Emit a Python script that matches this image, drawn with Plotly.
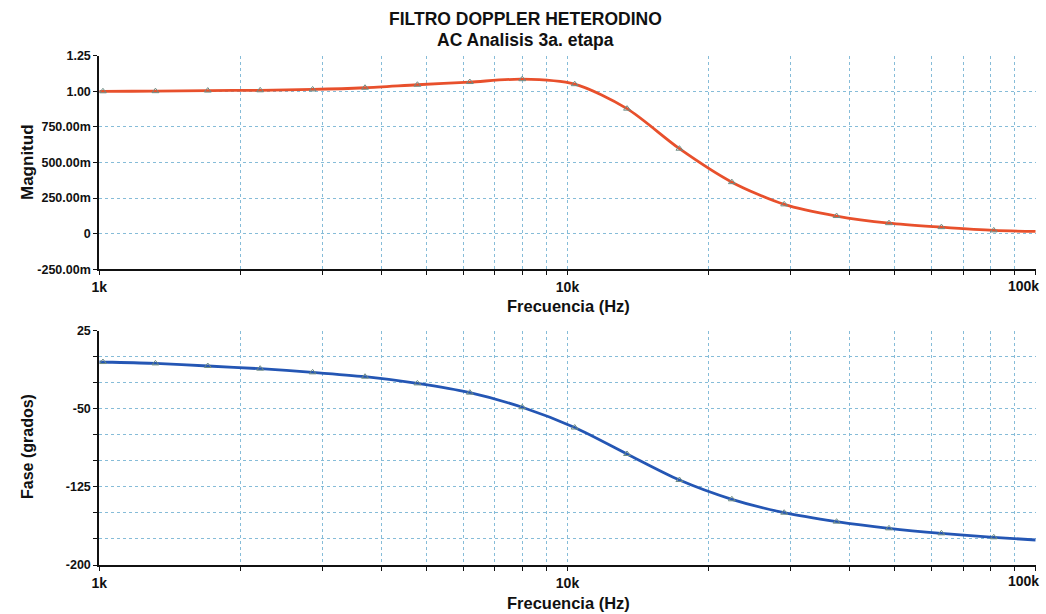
import plotly.graph_objects as go

# Frequency sweep (Hz) and simulated response of the 3rd stage
freq = [1000, 1018, 1318, 1705, 2206, 2855, 3694, 4780, 6185, 8004,
        10360, 13400, 17340, 22440, 29030, 37560, 48600, 62890, 81370, 100000]
magnitud = [1.000, 1.000, 1.001, 1.005, 1.007, 1.013, 1.025, 1.046, 1.065, 1.085,
            1.050, 0.878, 0.597, 0.362, 0.206, 0.124, 0.074, 0.046, 0.023, 0.016]
fase = [-5.0, -5.1, -6.4, -8.9, -11.5, -15.0, -19.2, -25.6, -34.5, -48.5,
        -68.0, -93.4, -118.4, -136.9, -149.8, -158.4, -164.8, -169.6, -173.4, -176.0]
# points carrying a sample marker
marker_idx = list(range(1, 19))

mag_ticks = [-0.25, 0, 0.25, 0.5, 0.75, 1.0, 1.25]
mag_labels = ["-250.00m", "0", "250.00m", "500.00m", "750.00m", "1.00", "1.25"]
fase_ticks = [25, 0, -25, -50, -75, -100, -125, -150, -175, -200]
fase_labels = ["25", "", "", "-50", "", "", "-125", "", "", "-200"]
freq_ticks = [m * 10 ** d for d in (3, 4) for m in range(1, 10)] + [100000]
freq_labels = ["1k" if v == 1000 else "10k" if v == 10000 else "" for v in freq_ticks]
freq_end_label = "100k"

W, H = 1046, 614
FONT = "Liberation Sans, Arial, sans-serif"
GRID = "#86bcd8"
RED = "#e8502c"
BLUE = "#2456b4"
MARK = "#6f8c84"
INK = "#111111"


def px_x(p):
    return p / W


def px_y(p):
    return 1 - p / H


def bold(labels):
    return [f"<b>{t}</b>" if t else "" for t in labels]


fig = go.Figure()

mk_f = [freq[i] for i in marker_idx]
fig.add_trace(go.Scatter(x=freq, y=magnitud, mode="lines",
                         line=dict(color=RED, width=2.8, shape="spline", smoothing=0.8),
                         xaxis="x", yaxis="y", showlegend=False, hoverinfo="x+y"))
fig.add_trace(go.Scatter(x=mk_f, y=[magnitud[i] for i in marker_idx], mode="markers",
                         marker=dict(symbol="triangle-up-open", size=6, color=MARK, line=dict(width=1)),
                         xaxis="x", yaxis="y", showlegend=False, hoverinfo="skip"))
fig.add_trace(go.Scatter(x=freq, y=fase, mode="lines",
                         line=dict(color=BLUE, width=2.8, shape="spline", smoothing=0.8),
                         xaxis="x2", yaxis="y2", showlegend=False, hoverinfo="x+y"))
fig.add_trace(go.Scatter(x=mk_f, y=[fase[i] for i in marker_idx], mode="markers",
                         marker=dict(symbol="triangle-up-open", size=6, color=MARK, line=dict(width=1)),
                         xaxis="x2", yaxis="y2", showlegend=False, hoverinfo="skip"))

x_dom = [px_x(99.3), px_x(1035.7)]

xcommon = dict(type="log", range=[3, 5], tickvals=freq_ticks, ticktext=bold(freq_labels),
               showgrid=True, gridcolor=GRID, griddash="dot", gridwidth=1,
               showline=True, linecolor=INK, linewidth=2, ticks="outside", ticklen=4,
               tickcolor=INK, tickfont=dict(family=FONT, size=14, color=INK),
               zeroline=False, domain=x_dom, automargin=False)
ycommon = dict(showgrid=True, gridcolor=GRID, griddash="dot", gridwidth=1,
               showline=True, linecolor=INK, linewidth=2, ticks="outside", ticklen=4,
               tickcolor=INK, tickfont=dict(family=FONT, size=12.5, color=INK),
               zeroline=False, automargin=False)

annotations = [
    dict(text="<b>FILTRO DOPPLER HETERODINO</b>", x=px_x(525), y=px_y(19)),
    dict(text="<b>AC Analisis 3a. etapa</b>", x=px_x(525), y=px_y(40)),
    dict(text="<b>Frecuencia (Hz)</b>", x=px_x(568), y=px_y(306), size=16.5),
    dict(text="<b>Frecuencia (Hz)</b>", x=px_x(568), y=px_y(603), size=16.5),
    dict(text="<b>Magnitud</b>", x=px_x(27), y=px_y(162), size=17, textangle=-90),
    dict(text="<b>Fase (grados)</b>", x=px_x(27), y=px_y(447), size=16, textangle=-90),
    dict(text=f"<b>{freq_end_label}</b>", x=px_x(1023), y=px_y(286), size=14),
    dict(text=f"<b>{freq_end_label}</b>", x=px_x(1023), y=px_y(581), size=14),
]
ann = []
for a in annotations:
    ann.append(dict(text=a["text"], x=a["x"], y=a["y"], xref="paper", yref="paper",
                    showarrow=False, textangle=a.get("textangle", 0),
                    font=dict(family=FONT, size=a.get("size", 17.5), color=INK),
                    xanchor="center", yanchor="middle"))

fig.update_layout(
    width=W, height=H,
    margin=dict(l=0, r=0, t=0, b=0),
    paper_bgcolor="white", plot_bgcolor="white",
    font=dict(family=FONT, color=INK),
    xaxis=dict(**xcommon, anchor="y"),
    yaxis=dict(**ycommon, range=[-0.25, 1.25], tickvals=mag_ticks, ticktext=bold(mag_labels),
               domain=[px_y(269.3), px_y(55.7)], anchor="x"),
    xaxis2=dict(**xcommon, anchor="y2"),
    yaxis2=dict(**ycommon, range=[-200, 25], tickvals=fase_ticks, ticktext=bold(fase_labels),
                domain=[px_y(565), px_y(330.7)], anchor="x2"),
    annotations=ann,
)

fig.write_html("out.html")
